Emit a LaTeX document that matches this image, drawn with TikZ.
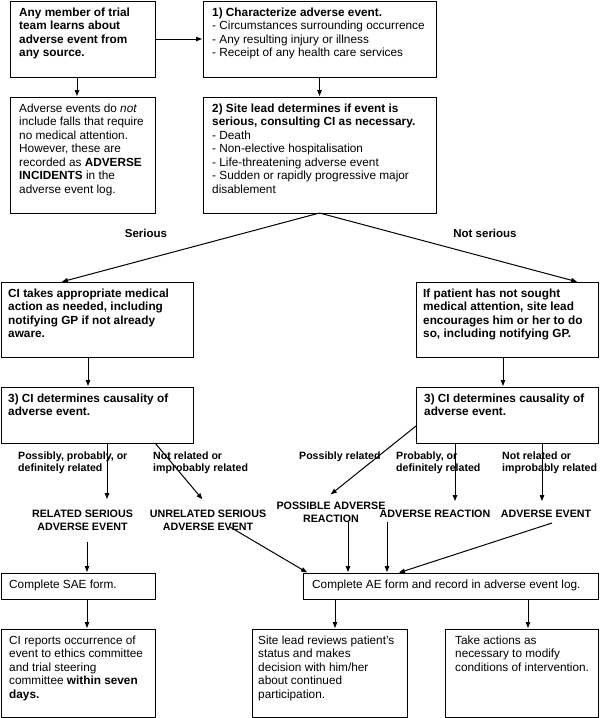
\documentclass[tikz,border=0pt]{standalone}
\usepackage{fontspec}
\setmainfont{Liberation Sans}
\usetikzlibrary{arrows.meta}
\newcommand\fst{\rule{0pt}{10pt}}
\newcommand\lst{\rule{0pt}{8pt}}
\tikzset{
  boxs/.style={draw, line width=1pt, inner sep=0pt, outer sep=0pt},
  txt/.style={inner sep=0pt, align=left, font=\fontsize{11.8}{13.5}\selectfont},
  btxt/.style={txt, font=\fontsize{11.8}{13.5}\selectfont\bfseries},
  lab/.style={inner sep=0pt, align=center, font=\fontsize{10.7}{13}\selectfont\bfseries},
  slab/.style={inner sep=0pt, align=left, font=\fontsize{10.6}{12.5}\selectfont\bfseries},
  blab/.style={inner sep=0pt, font=\fontsize{11.5}{13}\selectfont\bfseries},
  arr/.style={line width=1pt, -{Triangle[length=6pt,width=4.5pt]}, shorten >=1pt},
}
% #1 inset, #2 name, #3 x1, #4 y1, #5 x2, #6 y2, #7 style, #8 text
\newcommand\bx[8][8]{%
  \node[boxs, minimum width={#5-#3}, minimum height={#6-#4}] (#2) at ({(#3+#5)/2},{(#4+#6)/2}) {};
  \node[#7, anchor=north west] (#2t) at ([xshift=#1pt, yshift=-5pt]#2.north west) {\fst #8};
}
\begin{document}
\begin{tikzpicture}[x=1pt,y=-1pt]
\useasboundingbox (0,0) rectangle (600,718);

\bx[9]{A}{10}{1}{155}{77}{btxt}{Any member of trial\\team learns about\\adverse event from\\any source.}
\bx[9]{B}{203}{1}{436}{77}{txt}{\textbf{1) Characterize adverse event.}\\- Circumstances surrounding occurrence\\- Any resulting injury or illness\\- Receipt of any health care services}
\bx[9]{C}{10}{97}{155}{213}{txt}{Adverse events do \textit{not}\\include falls that require\\no medical attention.\\However, these are\\recorded as \textbf{ADVERSE}\\\textbf{INCIDENTS} in the\\adverse event log.}
\bx[9]{D}{203}{97}{436}{213}{txt}{\textbf{2) Site lead determines if event is}\\\textbf{serious, consulting CI as necessary.}\\- Death\\- Non-elective hospitalisation\\- Life-threatening adverse event\\- Sudden or rapidly progressive major\\disablement}
\bx[7]{E}{1}{282}{193}{357}{btxt}{CI takes appropriate medical\\action as needed, including\\notifying GP if not already\\aware.}
\bx[7]{F}{416}{282}{598}{357}{btxt}{If patient has not sought\\medical attention, site lead\\encourages him or her to do\\so, including notifying GP.}
\bx[7]{G}{1}{387}{193}{443}{btxt}{3) CI determines causality of\\adverse event.}
\bx[8]{H}{416}{387}{598}{443}{btxt}{3) CI determines causality of\\adverse event.}
\bx[8]{SAE}{1}{573}{155}{599}{txt}{Complete SAE form.}
\bx[8]{CIR}{1}{629}{155}{717}{txt}{CI reports occurrence of\\event to ethics committee\\and trial steering\\committee \textbf{within seven}\\\textbf{days.}}
\bx[9]{AE}{303}{573}{598}{599}{txt}{Complete AE form and record in adverse event log.}
\bx[6]{SL}{252}{629}{407}{717}{txt}{Site lead reviews patient's\\status and makes\\decision with him/her\\about continued\\participation.}
\bx[10]{TA}{445}{629}{598}{717}{txt}{Take actions as\\necessary to modify\\conditions of intervention.}

% labels
\node[blab, anchor=base] (ls) at (146,237.5) {Serious};
\node[blab, anchor=base] (lns) at (485,237.5) {Not serious};
\node[slab, anchor=north west] (l1) at (18,451) {\lst Possibly, probably, or\\definitely related};
\node[slab, anchor=north west] (l2) at (153,451) {\lst Not related or\\improbably related};
\node[slab, anchor=north west] (l3) at (299,451) {\lst Possibly related};
\node[slab, anchor=north west] (l4) at (396,451) {\lst Probably, or\\definitely related};
\node[slab, anchor=north west] (l5) at (502,451) {\lst Not related or\\improbably related};
\node[lab, anchor=north] (rse) at (82.5,509) {\lst RELATED SERIOUS\\ADVERSE EVENT};
\node[lab, anchor=north] (urse) at (208,509) {\lst UNRELATED SERIOUS\\ADVERSE EVENT};
\node[lab, anchor=north] (pare) at (331,501) {\lst POSSIBLE ADVERSE\\REACTION};
\node[lab, anchor=north] (arl) at (435,509) {\lst ADVERSE REACTION};
\node[lab, anchor=north] (ael) at (546,509) {\lst ADVERSE EVENT};

% connectors
\draw[arr] (A.east) -- (B.west);
\draw[arr] ([xshift=-5.5pt]A.south) -- ([xshift=-5.5pt]C.north);
\draw[arr] (B.south) -- (D.north);
\draw[arr] (D.south) -- ([xshift=-36pt]E.north);
\draw[arr] (D.south) -- ([xshift=71pt]F.north);
\draw[arr] ([xshift=-9pt]E.south) -- ([xshift=-9pt]G.north);
\draw[arr] ([xshift=-4pt]F.south) -- ([xshift=-4pt]H.north);
\draw[arr] ([xshift=10pt]G.south) -- ([xshift=24.5pt,yshift=9pt]rse.north);
\draw[arr] ([xshift=58pt]G.south) -- ([xshift=-5pt,yshift=9pt]urse.north);
\draw[arr] ([yshift=-11pt]H.west) -- ([xshift=-1pt,yshift=6pt]pare.north);
\draw[arr] ([xshift=-52pt]H.south) -- ([xshift=20pt,yshift=7pt]arl.north);
\draw[arr] ([xshift=35pt]H.south) -- ([xshift=-4pt,yshift=7pt]ael.north);
\draw[arr] ([xshift=4.5pt,yshift=-33pt]rse.north) -- ([xshift=9pt]SAE.north);
\draw[arr] ([xshift=22pt,yshift=-18pt]urse.north) -- ([xshift=-142.5pt]AE.north);
\draw[arr] ([xshift=17pt,yshift=-21pt]pare.north) -- ([xshift=-102.5pt]AE.north);
\draw[arr] ([xshift=-48pt,yshift=-13pt]arl.north) -- ([xshift=-63.5pt]AE.north);
\draw[arr] ([xshift=6pt,yshift=-14pt]ael.north) -- ([xshift=-52.5pt]AE.north);
\draw[arr] ([xshift=9pt]SAE.south) -- ([xshift=9pt]CIR.north);
\draw[arr] ([xshift=-115.5pt]AE.south) -- ([xshift=5.5pt]SL.north);
\draw[arr] ([xshift=77.5pt]AE.south) -- ([xshift=6.5pt]TA.north);
\end{tikzpicture}
\end{document}
